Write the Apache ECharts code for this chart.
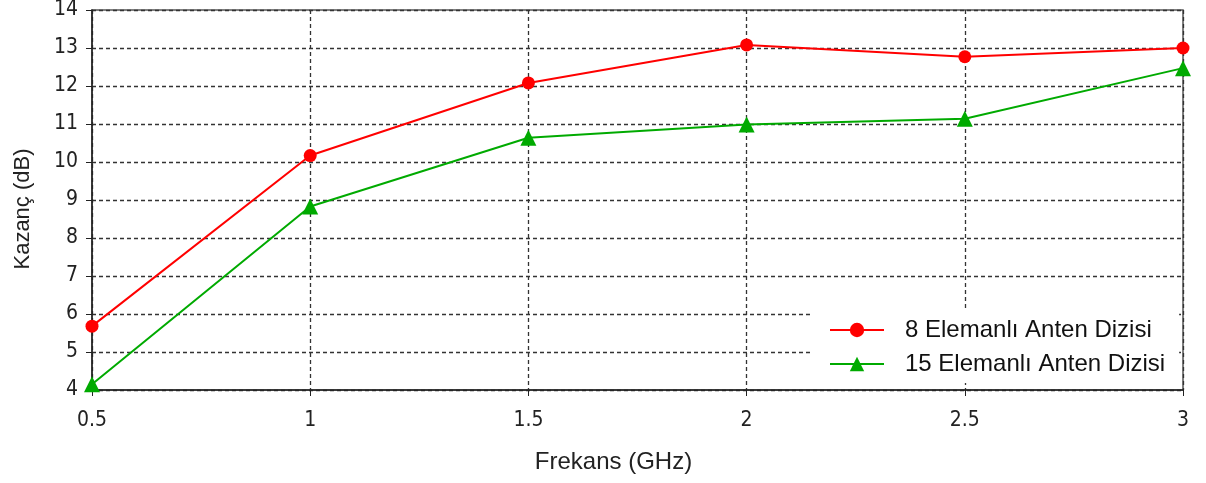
<!DOCTYPE html>
<html>
<head>
<meta charset="utf-8">
<script src="https://cdn.jsdelivr.net/npm/echarts@6/dist/echarts.min.js"></script>
<style>
  html, body { margin: 0; padding: 0; background: #fff; }
  #chart { width: 1206px; height: 483px; }
</style>
</head>
<body>
<div id="chart"></div>
<script>
// frekans (GHz)
const freqs = [0.5, 1, 1.5, 2, 2.5, 3]
// kazanç değerleri (dB)
const gain8 = [5.68, 10.17, 12.08, 13.08, 12.77, 13.0]
const gain15 = [4.15, 8.83, 10.64, 10.99, 11.14, 12.47]
const seriesNames = ['8 Elemanlı Anten Dizisi', '15 Elemanlı Anten Dizisi']

function pairs(xs, ys) {
    return xs.map((x, i) => [x, ys[i]])
}

const chart = echarts.init(document.getElementById('chart'))

const tickFont = {
    fontFamily: 'DejaVu Sans Condensed',
    fontSize: 21,
    color: '#222'
}
const gridLine = {
    show: true,
    lineStyle: { color: '#333', type: [4, 3], width: 1.3 }
}

const option = {
    animation: false,
    backgroundColor: '#fff',
    grid: {
        left: 92,
        right: 23,
        top: 10,
        bottom: 93,
        outerBoundsMode: 'none',
        containLabel: false,
        show: true,
        borderColor: '#555',
        borderWidth: 1.5
    },
    legend: {
        data: seriesNames,
        orient: 'vertical',
        left: 812,
        top: 309,
        backgroundColor: '#fff',
        padding: [9, 14, 7, 17],
        itemWidth: 54,
        itemHeight: 18,
        itemGap: 10,
        textStyle: {
            fontFamily: 'Liberation Sans',
            fontSize: 24,
            color: '#111',
            padding: [0, 0, 0, 16]
        }
    },
    xAxis: {
        type: 'value',
        min: 0.5,
        max: 3,
        interval: 0.5,
        name: 'Frekans (GHz)',
        nameLocation: 'middle',
        nameGap: 60,
        nameTextStyle: {
            fontFamily: 'Liberation Sans',
            fontSize: 24,
            color: '#222',
            padding: [0, 48, 0, 0]
        },
        axisLine: { show: true, lineStyle: { color: '#222', width: 1.5 } },
        axisTick: { show: true, length: 6, lineStyle: { color: '#222' } },
        axisLabel: Object.assign({ margin: 20 }, tickFont),
        splitLine: gridLine
    },
    yAxis: {
        type: 'value',
        min: 4,
        max: 14,
        interval: 1,
        name: 'Kazanç (dB)',
        nameLocation: 'middle',
        nameGap: 58,
        nameTextStyle: {
            fontFamily: 'Liberation Sans',
            fontSize: 22,
            color: '#222',
            padding: [0, 18, 0, 0]
        },
        axisLine: { show: true, lineStyle: { color: '#222', width: 1.5 } },
        axisTick: { show: true, length: 6, lineStyle: { color: '#222' } },
        axisLabel: Object.assign({
            margin: 14,
            verticalAlign: 'middle',
            padding: [8, 0, 0, 0]
        }, tickFont),
        splitLine: gridLine
    },
    series: [
        {
            name: seriesNames[0],
            type: 'line',
            data: pairs(freqs, gain8),
            symbol: 'circle',
            symbolSize: 13,
            color: '#ff0000',
            lineStyle: { width: 2 },
            z: 3
        },
        {
            name: seriesNames[1],
            type: 'line',
            data: pairs(freqs, gain15),
            symbol: 'triangle',
            symbolSize: 16,
            color: '#00aa00',
            lineStyle: { width: 2 },
            z: 3
        }
    ]
}
chart.setOption(option)
</script>
</body>
</html>
